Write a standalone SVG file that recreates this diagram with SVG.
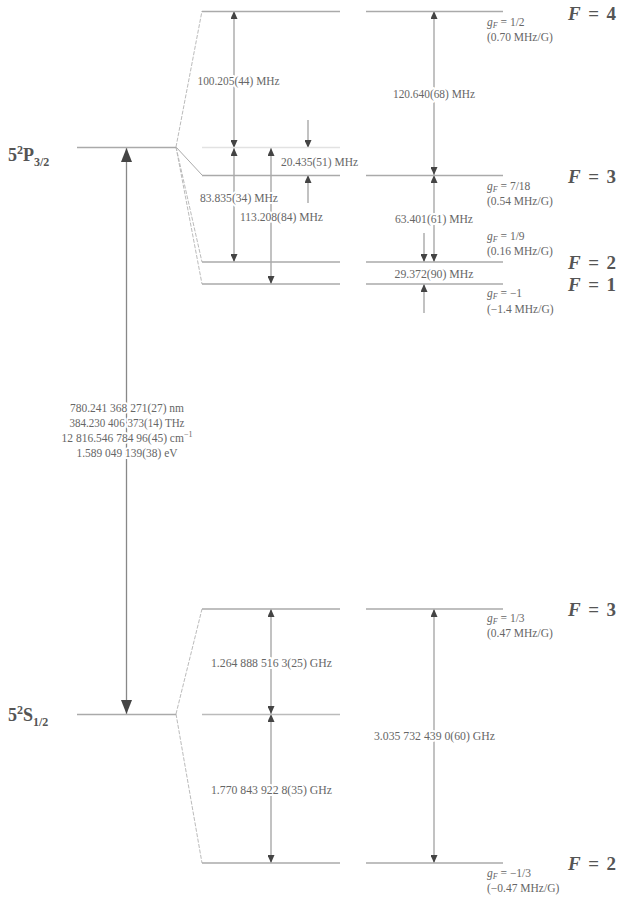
<svg xmlns="http://www.w3.org/2000/svg" width="621" height="901" viewBox="0 0 621 901">
<style>
text{font-family:'Liberation Serif','DejaVu Serif','Times New Roman',serif}
.lvl{stroke:#aaa;stroke-width:1.5;fill:none}
.faint{stroke:#e2e2e2;stroke-width:1.5;fill:none}
.fan{stroke:#bbb;stroke-width:1;fill:none;stroke-dasharray:4 1.5}
.arr{stroke:#999;stroke-width:1.2;fill:none}
.main{stroke:#888;stroke-width:1.3;fill:none}
.lab{font-size:11.5px;fill:#666;text-anchor:middle;stroke:#fff;stroke-width:4;paint-order:stroke;stroke-linejoin:round}
.g{font-size:11.5px;fill:#666}
.F{font-size:19px;font-weight:bold;fill:#555}
.st{font-size:18px;font-weight:bold;fill:#555}
</style>
<defs>
<marker id="ah" markerUnits="userSpaceOnUse" markerWidth="8" markerHeight="7" refX="8" refY="3.5" orient="auto-start-reverse"><path d="M0,0 L8,3.5 L0,7 z" fill="#444"/></marker>
<marker id="ahb" markerUnits="userSpaceOnUse" markerWidth="14" markerHeight="11" refX="14" refY="5.5" orient="auto-start-reverse"><path d="M0,0 L14,5.5 L0,11 z" fill="#444"/></marker>
</defs>
<rect width="621" height="901" fill="#fff"/>

<g id="connectors">
<path class="fan" d="M176,147 L202,11"/>
<path class="lvl" style="stroke-width:1" d="M176,147 L202,175"/>
<path class="fan" d="M176,147 L202,262"/>
<path class="fan" d="M176,147 L202,284"/>
<path class="fan" d="M176,714 L202,609"/>
<path class="fan" d="M176,714 L202,863"/>
<line class="main" x1="126.5" y1="148" x2="126.5" y2="714" marker-start="url(#ahb)" marker-end="url(#ahb)"/>
<line class="arr" x1="234" y1="11" x2="234" y2="148" marker-start="url(#ah)" marker-end="url(#ah)"/>
<line class="arr" x1="234" y1="148" x2="234" y2="262" marker-start="url(#ah)" marker-end="url(#ah)"/>
<line class="arr" x1="271" y1="148" x2="271" y2="284" marker-start="url(#ah)" marker-end="url(#ah)"/>
<line class="arr" x1="308" y1="120" x2="308" y2="148" marker-end="url(#ah)"/>
<line class="arr" x1="308" y1="203" x2="308" y2="175" marker-end="url(#ah)"/>
<line class="arr" x1="434" y1="11" x2="434" y2="175" marker-start="url(#ah)" marker-end="url(#ah)"/>
<line class="arr" x1="434" y1="175" x2="434" y2="262" marker-start="url(#ah)" marker-end="url(#ah)"/>
<line class="arr" x1="424" y1="233" x2="424" y2="262" marker-end="url(#ah)"/>
<line class="arr" x1="424" y1="313" x2="424" y2="284" marker-end="url(#ah)"/>
<line class="arr" x1="271" y1="609" x2="271" y2="714" marker-start="url(#ah)" marker-end="url(#ah)"/>
<line class="arr" x1="271" y1="714" x2="271" y2="863" marker-start="url(#ah)" marker-end="url(#ah)"/>
<line class="arr" x1="434" y1="609" x2="434" y2="863" marker-start="url(#ah)" marker-end="url(#ah)"/>
</g>

<g id="P32">
<line class="lvl" x1="77" y1="147.5" x2="176" y2="147.5"/>
<text class="st" x="8" y="161">5<tspan font-size="12" dy="-7">2</tspan><tspan dy="7">P</tspan><tspan font-size="12" dy="5">3/2</tspan></text>
</g>
<g id="S12">
<line class="lvl" x1="77" y1="714.5" x2="176" y2="714.5"/>
<text class="st" x="8" y="721">5<tspan font-size="12" dy="-7">2</tspan><tspan dy="7">S</tspan><tspan font-size="12" dy="5">1/2</tspan></text>
</g>

<g id="P-F4">
<line class="lvl" x1="202" y1="11.5" x2="340" y2="11.5"/>
<line class="lvl" x1="366" y1="11.5" x2="503" y2="11.5"/>
<text class="F" x="568" y="20" textLength="48" lengthAdjust="spacing"><tspan font-style="italic">F</tspan> = 4</text>
<text class="g" x="487" y="26" font-size="10.5"><tspan font-style="italic">g</tspan><tspan font-style="italic" font-size="8" dy="2">F</tspan><tspan dy="-2"> = 1/2</tspan></text>
<text class="g" x="487" y="41">(0.70 MHz/G)</text>
</g>
<g id="P-center">
<line class="faint" x1="202" y1="147.5" x2="340" y2="147.5"/>
</g>
<g id="P-F3">
<line class="lvl" x1="202" y1="175.5" x2="340" y2="175.5"/>
<line class="lvl" x1="366" y1="175.5" x2="503" y2="175.5"/>
<text class="F" x="568" y="183" textLength="48" lengthAdjust="spacing"><tspan font-style="italic">F</tspan> = 3</text>
<text class="g" x="487" y="190" font-size="10.5"><tspan font-style="italic">g</tspan><tspan font-style="italic" font-size="8" dy="2">F</tspan><tspan dy="-2"> = 7/18</tspan></text>
<text class="g" x="487" y="205">(0.54 MHz/G)</text>
</g>
<g id="P-F2">
<line class="lvl" x1="202" y1="262" x2="340" y2="262"/>
<line class="lvl" x1="366" y1="262" x2="503" y2="262"/>
<text class="F" x="568" y="269" textLength="48" lengthAdjust="spacing"><tspan font-style="italic">F</tspan> = 2</text>
<text class="g" x="487" y="240" font-size="10.5"><tspan font-style="italic">g</tspan><tspan font-style="italic" font-size="8" dy="2">F</tspan><tspan dy="-2"> = 1/9</tspan></text>
<text class="g" x="487" y="255">(0.16 MHz/G)</text>
</g>
<g id="P-F1">
<line class="lvl" x1="202" y1="284" x2="340" y2="284"/>
<line class="lvl" x1="366" y1="284" x2="503" y2="284"/>
<text class="F" x="568" y="291" textLength="48" lengthAdjust="spacing"><tspan font-style="italic">F</tspan> = 1</text>
<text class="g" x="487" y="297" font-size="10.5"><tspan font-style="italic">g</tspan><tspan font-style="italic" font-size="8" dy="2">F</tspan><tspan dy="-2"> = −1</tspan></text>
<text class="g" x="487" y="313">(−1.4 MHz/G)</text>
</g>

<g id="S-F3">
<line class="lvl" x1="202" y1="609" x2="340" y2="609"/>
<line class="lvl" x1="366" y1="609" x2="503" y2="609"/>
<text class="F" x="568" y="616" textLength="48" lengthAdjust="spacing"><tspan font-style="italic">F</tspan> = 3</text>
<text class="g" x="487" y="622" font-size="10.5"><tspan font-style="italic">g</tspan><tspan font-style="italic" font-size="8" dy="2">F</tspan><tspan dy="-2"> = 1/3</tspan></text>
<text class="g" x="487" y="637">(0.47 MHz/G)</text>
</g>
<g id="S-center">
<line class="lvl" style="stroke:#bbb" x1="202" y1="714.5" x2="340" y2="714.5"/>
</g>
<g id="S-F2">
<line class="lvl" x1="202" y1="863" x2="340" y2="863"/>
<line class="lvl" x1="366" y1="863" x2="503" y2="863"/>
<text class="F" x="568" y="870" textLength="48" lengthAdjust="spacing"><tspan font-style="italic">F</tspan> = 2</text>
<text class="g" x="487" y="877" font-size="10.5"><tspan font-style="italic">g</tspan><tspan font-style="italic" font-size="8" dy="2">F</tspan><tspan dy="-2"> = −1/3</tspan></text>
<text class="g" x="487" y="892">(−0.47 MHz/G)</text>
</g>

<g id="labels">
<text class="lab" x="238.5" y="85" textLength="82" lengthAdjust="spacingAndGlyphs">100.205(44) MHz</text>
<text class="lab" x="239" y="202" textLength="78" lengthAdjust="spacingAndGlyphs">83.835(34) MHz</text>
<text class="lab" x="281.5" y="221" textLength="83" lengthAdjust="spacingAndGlyphs">113.208(84) MHz</text>
<text class="lab" x="319.5" y="166" textLength="77" lengthAdjust="spacingAndGlyphs">20.435(51) MHz</text>
<text class="lab" x="434" y="98" textLength="82" lengthAdjust="spacingAndGlyphs">120.640(68) MHz</text>
<text class="lab" x="434" y="223" textLength="78" lengthAdjust="spacingAndGlyphs">63.401(61) MHz</text>
<text class="lab" x="434" y="278" textLength="79" lengthAdjust="spacingAndGlyphs">29.372(90) MHz</text>
<text class="lab" x="271.5" y="667" textLength="121" lengthAdjust="spacingAndGlyphs">1.264 888 516 3(25) GHz</text>
<text class="lab" x="271.5" y="794" textLength="121" lengthAdjust="spacingAndGlyphs">1.770 843 922 8(35) GHz</text>
<text class="lab" x="434.5" y="740" textLength="121" lengthAdjust="spacingAndGlyphs">3.035 732 439 0(60) GHz</text>
<text class="lab" x="127" y="412" textLength="114" lengthAdjust="spacingAndGlyphs">780.241 368 271(27) nm</text>
<text class="lab" x="127" y="427" textLength="115" lengthAdjust="spacingAndGlyphs">384.230 406 373(14) THz</text>
<text class="lab" x="127" y="442">12 816.546 784 96(45) cm<tspan font-size="8" dy="-5">−1</tspan></text>
<text class="lab" x="127" y="457" textLength="101" lengthAdjust="spacingAndGlyphs">1.589 049 139(38) eV</text>
</g>
</svg>
